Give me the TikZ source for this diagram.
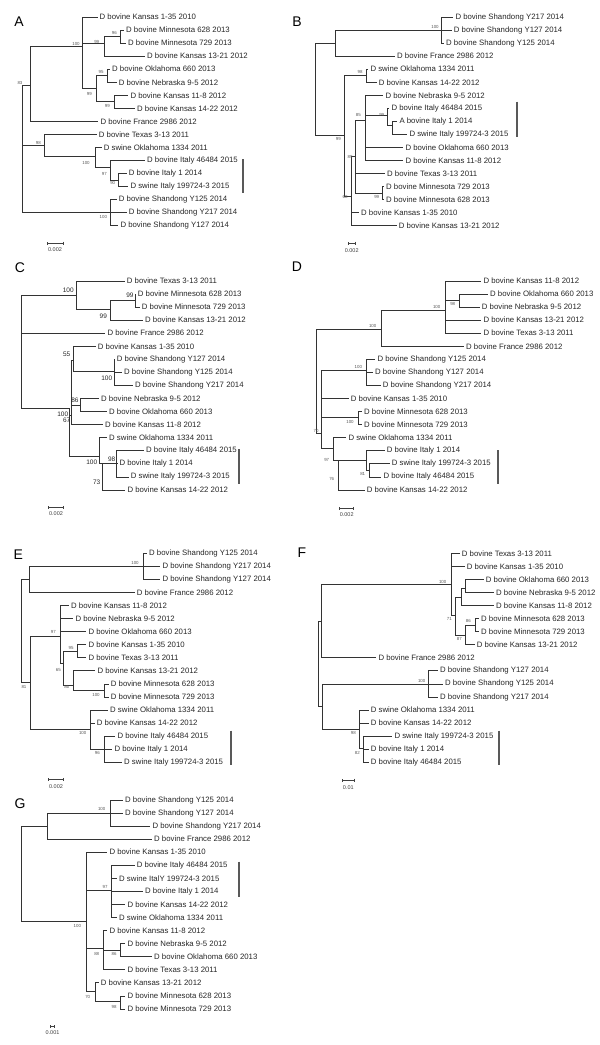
\documentclass[tikz,border=0pt]{standalone}
\usepackage{fontspec}
\setmainfont{Liberation Sans}
\usepackage{tikz}
\usetikzlibrary{arrows.meta}

\begin{document}
\begin{tikzpicture}[x=1pt, y=-1pt,
    leaf/.style={anchor=west, inner sep=2pt, font=\fontsize{7.8}{9}\selectfont, text=black!85},
    bs/.style={inner sep=0pt, font=\fontsize{4.4}{5}\selectfont, text=black!65},
    bsc/.style={inner sep=0pt, font=\fontsize{6.5}{7}\selectfont, text=black!85},
    br/.style={line width=0.7pt, draw=black!80},
    grp/.style={line width=1.9pt, draw=black!65},
    sbar/.style={line width=0.6pt, draw=black!75, {Bar[width=3pt]}-{Bar[width=3pt]}},
    sclbl/.style={inner sep=0pt, font=\fontsize{5.5}{6}\selectfont, text=black!75},
    plbl/.style={inner sep=0pt, font=\fontsize{14}{16}\selectfont},
  ]
    \useasboundingbox (0,0) rectangle (600,1045);

    % panel A
    \node[plbl] (pA) at (19,22) {A};
    \coordinate (Ar) at (22.7,85);
    \coordinate (A83) at (30,85);
    \coordinate (A100) at (82.7,46.7);
    \coordinate (A99a) at (104,43);
    \coordinate (A96) at (120,36);
    \coordinate (A99b) at (96.7,88.3);
    \coordinate (A95) at (107.3,75);
    \coordinate (A99c) at (114.3,101.7);
    \coordinate (A98) at (44.3,145);
    \coordinate (A100b) at (95,156.7);
    \coordinate (A97) at (110,167.7);
    \coordinate (A90) at (118.3,180);
    \coordinate (A100c) at (110,212.8);

    \node[leaf] (Ak135) at (97.5,17.0) {D bovine Kansas 1-35 2010};
    \node[leaf] (Am628) at (124,30.1) {D bovine Minnesota 628 2013};
    \node[leaf] (Am729) at (126,43.1) {D bovine Minnesota 729 2013};
    \node[leaf] (Ak1321) at (145,56.2) {D bovine Kansas 13-21 2012};
    \node[leaf] (Ao660) at (110,69.2) {D bovine Oklahoma 660 2013};
    \node[leaf] (An95) at (116.7,82.3) {D bovine Nebraska 9-5 2012};
    \node[leaf] (Ak118) at (128.3,95.3) {D bovine Kansas 11-8 2012};
    \node[leaf] (Ak1422) at (135,108.4) {D bovine Kansas 14-22 2012};
    \node[leaf] (Afr) at (98.3,121.4) {D bovine France 2986 2012};
    \node[leaf] (Atx) at (96.7,134.5) {D bovine Texas 3-13 2011};
    \node[leaf] (Aso) at (101.7,147.5) {D swine Oklahoma 1334 2011};
    \node[leaf] (Ai46) at (145,160.6) {D bovine Italy 46484 2015};
    \node[leaf] (Ai1) at (126.7,173.6) {D bovine Italy 1 2014};
    \node[leaf] (Asi) at (128.3,186.7) {D swine Italy 199724-3 2015};
    \node[leaf] (Ay125) at (116.7,199.7) {D bovine Shandong Y125 2014};
    \node[leaf] (Ay217) at (126.7,212.8) {D bovine Shandong Y217 2014};
    \node[leaf] (Ay127) at (118.3,225.8) {D bovine Shandong Y127 2014};

    \draw[br] (Ar) |- (A83) (Ar) |- (A98) (Ar) |- (A100c);
    \draw[br] (A83) |- (A100) (A83) |- (Afr);
    \draw[br] (A100) |- (Ak135) (A100) |- (A99a) (A100) |- (A99b);
    \draw[br] (A99a) |- (A96) (A99a) |- (Ak1321);
    \draw[br] (A96) |- (Am628) (A96) |- (Am729);
    \draw[br] (A99b) |- (A95) (A99b) |- (A99c);
    \draw[br] (A95) |- (Ao660) (A95) |- (An95);
    \draw[br] (A99c) |- (Ak118) (A99c) |- (Ak1422);
    \draw[br] (A98) |- (Atx) (A98) |- (A100b);
    \draw[br] (A100b) |- (Aso) (A100b) |- (A97);
    \draw[br] (A97) |- (Ai46) (A97) |- (A90);
    \draw[br] (A90) |- (Ai1) (A90) |- (Asi);
    \draw[br] (A100c) |- (Ay125) (A100c) |- (Ay217) (A100c) |- (Ay127);

    \node[bs] (A83l) at (20,83.3) {83};
    \node[bs] (A100l) at (76,44) {100};
    \node[bs] (A99al) at (96.7,41.5) {99};
    \node[bs] (A96l) at (114.3,33.3) {96};
    \node[bs] (A99bl) at (89.3,94) {99};
    \node[bs] (A95l) at (101,72.3) {95};
    \node[bs] (A99cl) at (107.3,106) {99};
    \node[bs] (A98l) at (38.3,142.7) {98};
    \node[bs] (A100bl) at (86,163.3) {100};
    \node[bs] (A97l) at (104.3,174) {97};
    \node[bs] (A90l) at (112.7,183.3) {90};
    \node[bs] (A100cl) at (103.3,216.7) {100};

    \coordinate (Ag1) at (243.3,159.3);
    \coordinate (Ag2) at (243.3,193.3);
    \draw[grp] (Ag1) -- (Ag2);
    \coordinate (As1) at (46.7,243);
    \coordinate (As2) at (63.3,243);
    \draw[sbar] (As1) -- (As2);
    \node[sclbl] (Asl) at (55,250) {0.002};

    % panel B
    \node[plbl] (pB) at (297,22) {B};
    \coordinate (Br) at (315,43.3);
    \coordinate (Btop) at (335,43.3);
    \coordinate (B100s) at (441.7,30);
    \coordinate (B99) at (344.3,135);
    \coordinate (B98) at (366.7,75);
    \coordinate (B68) at (351,196.7);
    \coordinate (B89) at (355,156.7);
    \coordinate (B85) at (365,120);
    \coordinate (B99i) at (387.7,115);
    \coordinate (Bsub) at (392.7,125);
    \coordinate (Bmn) at (382.7,193.3);

    \node[leaf] (By217) at (453.3,17.0) {D bovine Shandong Y217 2014};
    \node[leaf] (By127) at (451.7,30.1) {D bovine Shandong Y127 2014};
    \node[leaf] (By125) at (444,43.1) {D bovine Shandong Y125 2014};
    \node[leaf] (Bfr) at (395,56.2) {D bovine France 2986 2012};
    \node[leaf] (Bso) at (368.3,69.2) {D swine Oklahoma 1334 2011};
    \node[leaf] (Bk1422) at (376.7,82.3) {D bovine Kansas 14-22 2012};
    \node[leaf] (Bn95) at (383.3,95.3) {D bovine Nebraska 9-5 2012};
    \node[leaf] (Bi46) at (389.3,108.4) {D bovine Italy 46484 2015};
    \node[leaf] (Bi1) at (397.3,121.4) {A bovine Italy 1 2014};
    \node[leaf] (Bsi) at (407.3,134.5) {D swine Italy 199724-3 2015};
    \node[leaf] (Bo660) at (403.3,147.5) {D bovine Oklahoma 660 2013};
    \node[leaf] (Bk118) at (403.3,160.6) {D bovine Kansas 11-8 2012};
    \node[leaf] (Btx) at (385,173.6) {D bovine Texas 3-13 2011};
    \node[leaf] (Bm729) at (384,186.7) {D bovine Minnesota 729 2013};
    \node[leaf] (Bm628) at (384,199.7) {D bovine Minnesota 628 2013};
    \node[leaf] (Bk135) at (359,212.8) {D bovine Kansas 1-35 2010};
    \node[leaf] (Bk1321) at (396.7,225.8) {D bovine Kansas 13-21 2012};

    \draw[br] (Br) |- (Btop) (Br) |- (B99);
    \draw[br] (Btop) |- (B100s) (Btop) |- (Bfr);
    \draw[br] (B100s) |- (By217) (B100s) |- (By127) (B100s) |- (By125);
    \draw[br] (B99) |- (B98) (B99) |- (B68);
    \draw[br] (B98) |- (Bso) (B98) |- (Bk1422);
    \draw[br] (B68) |- (B89) (B68) |- (Bk135) (B68) |- (Bk1321);
    \draw[br] (B89) |- (B85) (B89) |- (Btx) (B89) |- (Bmn);
    \draw[br] (B85) |- (Bn95) (B85) |- (B99i) (B85) |- (Bo660) (B85) |- (Bk118);
    \draw[br] (B99i) |- (Bi46) (B99i) |- (Bsub);
    \draw[br] (Bsub) |- (Bi1) (Bsub) |- (Bsi);
    \draw[br] (Bmn) |- (Bm729) (Bmn) |- (Bm628);

    \node[bs] (B100sl) at (435,27.3) {100};
    \node[bs] (B99l) at (338.3,139.3) {99};
    \node[bs] (B98l) at (360,71.7) {98};
    \node[bs] (B85l) at (358.3,115) {85};
    \node[bs] (B99il) at (381.7,115) {99};
    \node[bs] (B89l) at (350,156.7) {89};
    \node[bs] (B68l) at (345,197.3) {68};
    \node[bs] (Bmnl) at (376.7,197.3) {99};

    \coordinate (Bg1) at (516.7,101.7);
    \coordinate (Bg2) at (516.7,136.7);
    \draw[grp] (Bg1) -- (Bg2);
    \coordinate (Bs1) at (347.5,243);
    \coordinate (Bs2) at (355.5,243);
    \draw[sbar] (Bs1) -- (Bs2);
    \node[sclbl] (Bsl) at (351.7,250.7) {0.002};

    % panel C
    \node[plbl] (pC) at (20,268) {C};
    \coordinate (Cr) at (21,295.7);
    \coordinate (C100) at (76,295.7);
    \coordinate (C99) at (110,309.3);
    \coordinate (C99b) at (135,300.5);
    \coordinate (C100b) at (69,408.3);
    \coordinate (C67) at (71,415);
    \coordinate (C55) at (73.3,360);
    \coordinate (C100s) at (114.3,371.7);
    \coordinate (C86) at (80,405);
    \coordinate (C100c) at (99.3,456.7);
    \coordinate (C73) at (102.7,463.3);
    \coordinate (C98) at (116.7,463.3);

    \node[leaf] (Ctx) at (124.7,281.0) {D bovine Texas 3-13 2011};
    \node[leaf] (Cm628) at (135.7,294.1) {D bovine Minnesota 628 2013};
    \node[leaf] (Cm729) at (139.7,307.1) {D bovine Minnesota 729 2013};
    \node[leaf] (Ck1321) at (143,320.2) {D bovine Kansas 13-21 2012};
    \node[leaf] (Cfr) at (105.3,333.2) {D bovine France 2986 2012};
    \node[leaf] (Ck135) at (95.7,346.3) {D bovine Kansas 1-35 2010};
    \node[leaf] (Cy127) at (114.7,359.4) {D bovine Shandong Y127 2014};
    \node[leaf] (Cy125) at (122,372.4) {D bovine Shandong Y125 2014};
    \node[leaf] (Cy217) at (133,385.5) {D bovine Shandong Y217 2014};
    \node[leaf] (Cn95) at (99,398.5) {D bovine Nebraska 9-5 2012};
    \node[leaf] (Co660) at (107,411.6) {D bovine Oklahoma 660 2013};
    \node[leaf] (Ck118) at (103,424.7) {D bovine Kansas 11-8 2012};
    \node[leaf] (Cso) at (107,437.7) {D swine Oklahoma 1334 2011};
    \node[leaf] (Ci46) at (144,450.8) {D bovine Italy 46484 2015};
    \node[leaf] (Ci1) at (117.3,463.8) {D bovine Italy 1 2014};
    \node[leaf] (Csi) at (128.7,476.9) {D swine Italy 199724-3 2015};
    \node[leaf] (Ck1422) at (125.3,490.0) {D bovine Kansas 14-22 2012};

    \draw[br] (Cr) |- (C100) (Cr) |- (Cfr) (Cr) |- (C100b);
    \draw[br] (C100) |- (Ctx) (C100) |- (C99);
    \draw[br] (C99) |- (C99b) (C99) |- (Ck1321);
    \draw[br] (C99b) |- (Cm628) (C99b) |- (Cm729);
    \draw[br] (C100b) |- (C67) (C100b) |- (C100c);
    \draw[br] (C67) |- (C55) (C67) |- (C86) (C67) |- (Ck118);
    \draw[br] (C55) |- (Ck135) (C55) |- (C100s);
    \draw[br] (C100s) |- (Cy127) (C100s) |- (Cy125) (C100s) |- (Cy217);
    \draw[br] (C86) |- (Cn95) (C86) |- (Co660);
    \draw[br] (C100c) |- (Cso) (C100c) |- (C73);
    \draw[br] (C73) |- (C98) (C73) |- (Ck1422);
    \draw[br] (C98) |- (Ci46) (C98) |- (Ci1) (C98) |- (Csi);

    \node[bsc] (C100l) at (68.3,290) {100};
    \node[bsc] (C99bl) at (130,295.7) {99};
    \node[bsc] (C99l) at (103.3,316.7) {99};
    \node[bsc] (C55l) at (66.7,354) {55};
    \node[bsc] (C100sl) at (106.7,378.3) {100};
    \node[bsc] (C86l) at (75,400) {86};
    \node[bsc] (C100bl) at (62.7,414) {100};
    \node[bsc] (C67l) at (66.7,420.7) {67};
    \node[bsc] (C100cl) at (91.7,462.7) {100};
    \node[bsc] (C98l) at (111.7,459.3) {98};
    \node[bsc] (C73l) at (96.7,482.7) {73};

    \coordinate (Cg1) at (239.3,449.3);
    \coordinate (Cg2) at (239.3,484);
    \draw[grp] (Cg1) -- (Cg2);
    \coordinate (Cs1) at (48.3,507.3);
    \coordinate (Cs2) at (64,507.3);
    \draw[sbar] (Cs1) -- (Cs2);
    \node[sclbl] (Csl) at (56,513.3) {0.002};

    % panel D
    \node[plbl] (pD) at (297,267) {D};
    \coordinate (Dr) at (316.7,329.3);
    \coordinate (D100t) at (381.7,329.3);
    \coordinate (D100a) at (445.7,310);
    \coordinate (D98) at (459.3,300.7);
    \coordinate (D70) at (321.7,433.3);
    \coordinate (D100s) at (366.7,370);
    \coordinate (D100m) at (358.3,417.3);
    \coordinate (D97) at (333.3,448.3);
    \coordinate (D76) at (338.3,460);
    \coordinate (Dit) at (366.7,460);
    \coordinate (D81) at (369.3,470);

    \node[leaf] (Dk118) at (481.3,281.0) {D bovine Kansas 11-8 2012};
    \node[leaf] (Do660) at (488,294.1) {D bovine Oklahoma 660 2013};
    \node[leaf] (Dn95) at (479.7,307.1) {D bovine Nebraska 9-5 2012};
    \node[leaf] (Dk1321) at (481.3,320.2) {D bovine Kansas 13-21 2012};
    \node[leaf] (Dtx) at (481.3,333.2) {D bovine Texas 3-13 2011};
    \node[leaf] (Dfr) at (464,346.3) {D bovine France 2986 2012};
    \node[leaf] (Dy125) at (375.3,359.4) {D bovine Shandong Y125 2014};
    \node[leaf] (Dy127) at (373,372.4) {D bovine Shandong Y127 2014};
    \node[leaf] (Dy217) at (380.7,385.5) {D bovine Shandong Y217 2014};
    \node[leaf] (Dk135) at (348.7,398.5) {D bovine Kansas 1-35 2010};
    \node[leaf] (Dm628) at (362,411.6) {D bovine Minnesota 628 2013};
    \node[leaf] (Dm729) at (362,424.7) {D bovine Minnesota 729 2013};
    \node[leaf] (Dso) at (346.3,437.7) {D swine Oklahoma 1334 2011};
    \node[leaf] (Di1) at (384.7,450.8) {D bovine Italy 1 2014};
    \node[leaf] (Dsi) at (389.7,463.8) {D swine Italy 199724-3 2015};
    \node[leaf] (Di46) at (381.3,476.9) {D bovine Italy 46484 2015};
    \node[leaf] (Dk1422) at (364.7,490.0) {D bovine Kansas 14-22 2012};

    \draw[br] (Dr) |- (D100t) (Dr) |- (D70);
    \draw[br] (D100t) |- (D100a) (D100t) |- (Dfr);
    \draw[br] (D100a) |- (Dk118) (D100a) |- (D98) (D100a) |- (Dk1321) (D100a) |- (Dtx);
    \draw[br] (D98) |- (Do660) (D98) |- (Dn95);
    \draw[br] (D70) |- (D100s) (D70) |- (Dk135) (D70) |- (D100m) (D70) |- (D97);
    \draw[br] (D100s) |- (Dy125) (D100s) |- (Dy127) (D100s) |- (Dy217);
    \draw[br] (D100m) |- (Dm628) (D100m) |- (Dm729);
    \draw[br] (D97) |- (Dso) (D97) |- (D76);
    \draw[br] (D76) |- (Dit) (D76) |- (Dk1422);
    \draw[br] (Dit) |- (Di1) (Dit) |- (D81);
    \draw[br] (D81) |- (Dsi) (D81) |- (Di46);

    \node[bs] (D100tl) at (372.7,325.7) {100};
    \node[bs] (D100al) at (436.7,307) {100};
    \node[bs] (D98l) at (452.7,304) {98};
    \node[bs] (D100sl) at (358.3,367) {100};
    \node[bs] (D70l) at (316,431) {70};
    \node[bs] (D100ml) at (350,422.3) {100};
    \node[bs] (D97l) at (326.7,460) {97};
    \node[bs] (D76l) at (331.7,479) {76};
    \node[bs] (D81l) at (362.7,474) {81};

    \coordinate (Dg1) at (498.3,450);
    \coordinate (Dg2) at (498.3,484);
    \draw[grp] (Dg1) -- (Dg2);
    \coordinate (Ds1) at (339.3,508.3);
    \coordinate (Ds2) at (353.3,508.3);
    \draw[sbar] (Ds1) -- (Ds2);
    \node[sclbl] (Dsl) at (346.7,515) {0.002};

    % panel E
    \node[plbl] (pE) at (18.3,555) {E};
    \coordinate (Er) at (21.7,579.4);
    \coordinate (Etop) at (29.3,579.4);
    \coordinate (E100s) at (143.3,566.4);
    \coordinate (E81) at (30.7,682.7);
    \coordinate (E97) at (60,636);
    \coordinate (E65) at (63.3,663.3);
    \coordinate (E95) at (77.7,651);
    \coordinate (E86) at (73.3,685);
    \coordinate (E100m) at (104.3,690.7);
    \coordinate (E100) at (90.7,729.3);
    \coordinate (E96) at (104,749.2);

    \node[leaf] (Ey125) at (147,553.3) {D bovine Shandong Y125 2014};
    \node[leaf] (Ey217) at (160.3,566.4) {D bovine Shandong Y217 2014};
    \node[leaf] (Ey127) at (160.3,579.4) {D bovine Shandong Y127 2014};
    \node[leaf] (Efr) at (134.7,592.5) {D bovine France 2986 2012};
    \node[leaf] (Ek118) at (69,605.5) {D bovine Kansas 11-8 2012};
    \node[leaf] (En95) at (73.3,618.6) {D bovine Nebraska 9-5 2012};
    \node[leaf] (Eo660) at (86.3,631.7) {D bovine Oklahoma 660 2013};
    \node[leaf] (Ek135) at (86.3,644.7) {D bovine Kansas 1-35 2010};
    \node[leaf] (Etx) at (86.3,657.8) {D bovine Texas 3-13 2011};
    \node[leaf] (Ek1321) at (95.3,670.8) {D bovine Kansas 13-21 2012};
    \node[leaf] (Em628) at (108.7,683.9) {D bovine Minnesota 628 2013};
    \node[leaf] (Em729) at (108.7,697.0) {D bovine Minnesota 729 2013};
    \node[leaf] (Eso) at (108,710.0) {D swine Oklahoma 1334 2011};
    \node[leaf] (Ek1422) at (94.7,723.1) {D bovine Kansas 14-22 2012};
    \node[leaf] (Ei46) at (115.3,736.1) {D bovine Italy 46484 2015};
    \node[leaf] (Ei1) at (112.3,749.2) {D bovine Italy 1 2014};
    \node[leaf] (Esi) at (122,762.3) {D swine Italy 199724-3 2015};

    \draw[br] (Er) |- (Etop) (Er) |- (E81);
    \draw[br] (Etop) |- (E100s) (Etop) |- (Efr);
    \draw[br] (E100s) |- (Ey125) (E100s) |- (Ey217) (E100s) |- (Ey127);
    \draw[br] (E81) |- (E97) (E81) |- (E100);
    \draw[br] (E97) |- (Ek118) (E97) |- (En95) (E97) |- (Eo660) (E97) |- (E65);
    \draw[br] (E65) |- (E95) (E65) |- (E86);
    \draw[br] (E95) |- (Ek135) (E95) |- (Etx);
    \draw[br] (E86) |- (Ek1321) (E86) |- (E100m);
    \draw[br] (E100m) |- (Em628) (E100m) |- (Em729);
    \draw[br] (E100) |- (Eso) (E100) |- (Ek1422) (E100) |- (E96);
    \draw[br] (E96) |- (Ei46) (E96) |- (Ei1) (E96) |- (Esi);

    \node[bs] (E100sl) at (135,562.7) {100};
    \node[bs] (E81l) at (24,686.7) {81};
    \node[bs] (E97l) at (53.3,631.7) {97};
    \node[bs] (E95l) at (71,647.7) {95};
    \node[bs] (E65l) at (58.3,670) {65};
    \node[bs] (E86l) at (66.7,687) {86};
    \node[bs] (E100ml) at (96,695) {100};
    \node[bs] (E100l) at (82.7,733.3) {100};
    \node[bs] (E96l) at (97.3,753.3) {96};

    \coordinate (Eg1) at (230.7,730.7);
    \coordinate (Eg2) at (230.7,765);
    \draw[grp] (Eg1) -- (Eg2);
    \coordinate (Es1) at (48.3,779.3);
    \coordinate (Es2) at (63.3,779.3);
    \draw[sbar] (Es1) -- (Es2);
    \node[sclbl] (Esl) at (56,786.7) {0.002};

    % panel F
    \node[plbl] (pF) at (302,553) {F};
    \coordinate (Fr) at (318.3,621.7);
    \coordinate (Ftop) at (321.7,621.7);
    \coordinate (F100) at (451.7,584);
    \coordinate (F71) at (455,615);
    \coordinate (Fsub) at (461,597);
    \coordinate (Fsub2) at (465.7,588.3);
    \coordinate (F87) at (465.7,635);
    \coordinate (F86) at (475,625);
    \coordinate (Fbot) at (322.7,706.7);
    \coordinate (F100s) at (428.3,684);
    \coordinate (F98) at (359.3,729.3);
    \coordinate (F82) at (363.3,748.3);

    \node[leaf] (Ftx) at (459.7,553.3) {D bovine Texas 3-13 2011};
    \node[leaf] (Fk135) at (464.7,566.4) {D bovine Kansas 1-35 2010};
    \node[leaf] (Fo660) at (483.7,579.4) {D bovine Oklahoma 660 2013};
    \node[leaf] (Fn95) at (494,592.5) {D bovine Nebraska 9-5 2012};
    \node[leaf] (Fk118) at (494,605.5) {D bovine Kansas 11-8 2012};
    \node[leaf] (Fm628) at (479,618.6) {D bovine Minnesota 628 2013};
    \node[leaf] (Fm729) at (479,631.7) {D bovine Minnesota 729 2013};
    \node[leaf] (Fk1321) at (474.7,644.7) {D bovine Kansas 13-21 2012};
    \node[leaf] (Ffr) at (376.3,657.8) {D bovine France 2986 2012};
    \node[leaf] (Fy127) at (438,670.8) {D bovine Shandong Y127 2014};
    \node[leaf] (Fy125) at (443,683.9) {D bovine Shandong Y125 2014};
    \node[leaf] (Fy217) at (438,697.0) {D bovine Shandong Y217 2014};
    \node[leaf] (Fso) at (368.7,710.0) {D swine Oklahoma 1334 2011};
    \node[leaf] (Fk1422) at (368.7,723.1) {D bovine Kansas 14-22 2012};
    \node[leaf] (Fsi) at (392.3,736.1) {D swine Italy 199724-3 2015};
    \node[leaf] (Fi1) at (368.7,749.2) {D bovine Italy 1 2014};
    \node[leaf] (Fi46) at (368.7,762.3) {D bovine Italy 46484 2015};

    \draw[br] (Fr) |- (Ftop) (Fr) |- (Fbot);
    \draw[br] (Ftop) |- (F100) (Ftop) |- (Ffr);
    \draw[br] (F100) |- (Ftx) (F100) |- (Fk135) (F100) |- (F71);
    \draw[br] (F71) |- (Fsub) (F71) |- (F87);
    \draw[br] (Fsub) |- (Fsub2) (Fsub) |- (Fk118);
    \draw[br] (Fsub2) |- (Fo660) (Fsub2) |- (Fn95);
    \draw[br] (F87) |- (F86) (F87) |- (Fk1321);
    \draw[br] (F86) |- (Fm628) (F86) |- (Fm729);
    \draw[br] (Fbot) |- (F100s) (Fbot) |- (F98);
    \draw[br] (F100s) |- (Fy127) (F100s) |- (Fy125) (F100s) |- (Fy217);
    \draw[br] (F98) |- (Fso) (F98) |- (Fk1422) (F98) |- (F82);
    \draw[br] (F82) |- (Fsi) (F82) |- (Fi1) (F82) |- (Fi46);

    \node[bs] (F100l) at (442.7,581.7) {100};
    \node[bs] (F71l) at (449.3,619) {71};
    \node[bs] (F86l) at (468.3,621) {86};
    \node[bs] (F87l) at (459.3,639) {87};
    \node[bs] (F100sl) at (421.7,680.7) {100};
    \node[bs] (F98l) at (353.3,733.3) {98};
    \node[bs] (F82l) at (357.3,752.7) {82};

    \coordinate (Fg1) at (499,730.7);
    \coordinate (Fg2) at (499,765);
    \draw[grp] (Fg1) -- (Fg2);
    \coordinate (Fs1) at (341.7,780);
    \coordinate (Fs2) at (355,780);
    \draw[sbar] (Fs1) -- (Fs2);
    \node[sclbl] (Fsl) at (348.3,787.3) {0.01};

    % panel G
    \node[plbl] (pG) at (20,803.3) {G};
    \coordinate (Gr) at (21,826.1);
    \coordinate (Gtop) at (47.3,826.1);
    \coordinate (G100s) at (110.7,813.1);
    \coordinate (G100) at (86,921.7);
    \coordinate (G97) at (111.7,890);
    \coordinate (G88) at (103.3,948.3);
    \coordinate (G86) at (120.7,950);
    \coordinate (G70) at (95,991.7);
    \coordinate (G98) at (120.7,1001.7);

    \node[leaf] (Gy125) at (123,800.0) {D bovine Shandong Y125 2014};
    \node[leaf] (Gy127) at (123,813.1) {D bovine Shandong Y127 2014};
    \node[leaf] (Gy217) at (150.3,826.1) {D bovine Shandong Y217 2014};
    \node[leaf] (Gfr) at (152,839.2) {D bovine France 2986 2012};
    \node[leaf] (Gk135) at (107.3,852.2) {D bovine Kansas 1-35 2010};
    \node[leaf] (Gi46) at (134.7,865.3) {D bovine Italy 46484 2015};
    \node[leaf] (Gsi) at (117,878.4) {D swine ItalY 199724-3 2015};
    \node[leaf] (Gi1) at (143,891.4) {D bovine Italy 1 2014};
    \node[leaf] (Gk1422) at (125.3,904.5) {D bovine Kansas 14-22 2012};
    \node[leaf] (Gso) at (117,917.5) {D swine Oklahoma 1334 2011};
    \node[leaf] (Gk118) at (107.3,930.6) {D bovine Kansas 11-8 2012};
    \node[leaf] (Gn95) at (125.3,943.7) {D bovine Nebraska 9-5 2012};
    \node[leaf] (Go660) at (152,956.7) {D bovine Oklahoma 660 2013};
    \node[leaf] (Gtx) at (125.3,969.8) {D bovine Texas 3-13 2011};
    \node[leaf] (Gk1321) at (98.7,982.8) {D bovine Kansas 13-21 2012};
    \node[leaf] (Gm628) at (125.3,995.9) {D bovine Minnesota 628 2013};
    \node[leaf] (Gm729) at (125.3,1009.0) {D bovine Minnesota 729 2013};

    \draw[br] (Gr) |- (Gtop) (Gr) |- (G100);
    \draw[br] (Gtop) |- (G100s) (Gtop) |- (Gfr);
    \draw[br] (G100s) |- (Gy125) (G100s) |- (Gy127) (G100s) |- (Gy217);
    \draw[br] (G100) |- (Gk135) (G100) |- (G97) (G100) |- (G88) (G100) |- (G70);
    \draw[br] (G97) |- (Gi46) (G97) |- (Gsi) (G97) |- (Gi1) (G97) |- (Gk1422) (G97) |- (Gso);
    \draw[br] (G88) |- (Gk118) (G88) |- (G86) (G88) |- (Gtx);
    \draw[br] (G86) |- (Gn95) (G86) |- (Go660);
    \draw[br] (G70) |- (Gk1321) (G70) |- (G98);
    \draw[br] (G98) |- (Gm628) (G98) |- (Gm729);

    \node[bs] (G100sl) at (101.7,809) {100};
    \node[bs] (G100l) at (77.3,926) {100};
    \node[bs] (G97l) at (105,887.3) {97};
    \node[bs] (G88l) at (96.7,954) {88};
    \node[bs] (G86l) at (114,954) {86};
    \node[bs] (G70l) at (87.7,996.7) {70};
    \node[bs] (G98l) at (114,1006.7) {98};

    \coordinate (Gg1) at (239.3,861.7);
    \coordinate (Gg2) at (239.3,897.3);
    \draw[grp] (Gg1) -- (Gg2);
    \coordinate (Gs1) at (50,1026.7);
    \coordinate (Gs2) at (55,1026.7);
    \draw[sbar] (Gs1) -- (Gs2);
    \node[sclbl] (Gsl) at (52.5,1033) {0.001};
  \end{tikzpicture}
\end{document}
